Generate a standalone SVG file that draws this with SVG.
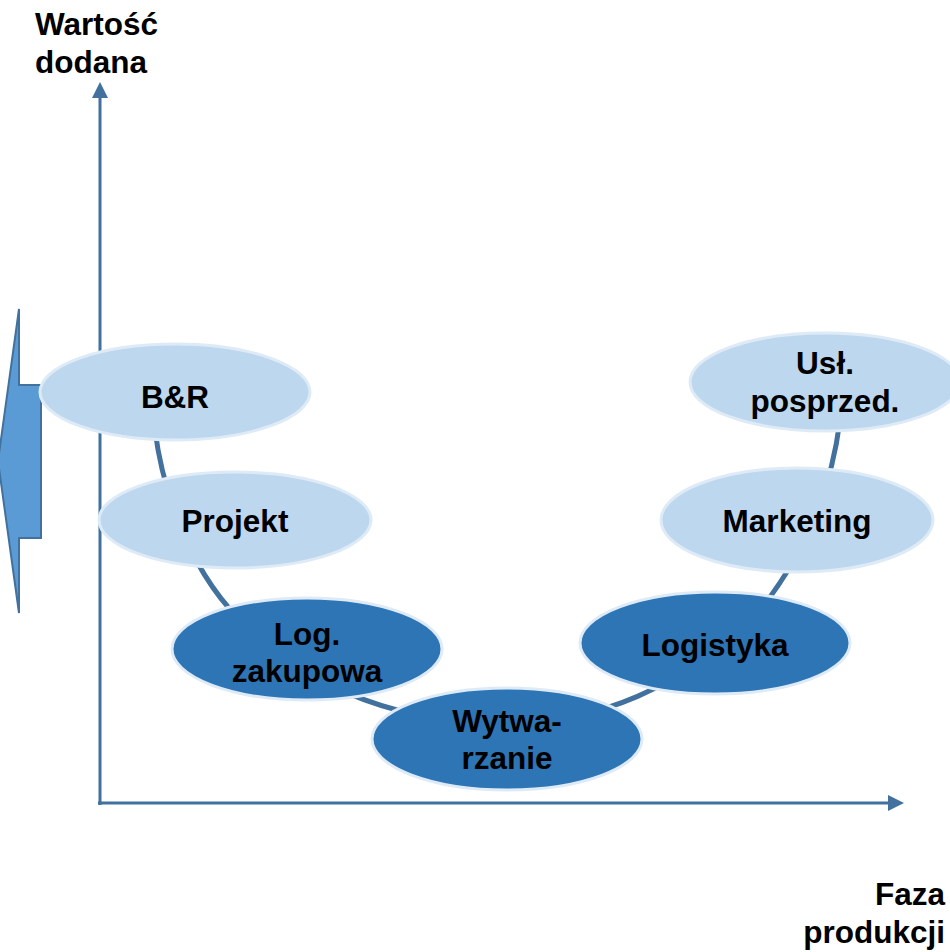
<svg xmlns="http://www.w3.org/2000/svg" width="950" height="952" viewBox="0 0 950 952">
<style>
text{font-family:"Liberation Sans",Arial,sans-serif;font-weight:bold;font-size:31.5px;fill:#000;text-anchor:middle}
.light{fill:#BDD7EE;stroke:#DEEBF7;stroke-width:3}
.dark{fill:#2E75B6;stroke:#DEEBF7;stroke-width:3}
.axis{stroke:#41719C;stroke-width:3;fill:none}
.conn{stroke:#41719C;stroke-width:5;fill:none}
</style>
<g id="side-arrow">
<path d="M19,309 L19,385 L41,385 L41,538 L19,538 L19,613 L-2,461 Z" fill="#5B9BD5" stroke="#41719C" stroke-width="2"/>
</g>
<g id="axes">
<line class="axis" x1="100" y1="805" x2="100" y2="98"/>
<path d="M92,98 L100,82 L108,98 Z" fill="#41719C"/>
<line class="axis" x1="98" y1="803" x2="888" y2="803"/>
<path d="M888,795 L904,803 L888,811 Z" fill="#41719C"/>
</g>
<g id="connectors">
<path class="conn" d="M155,430 C160,470 180,560 240,620 C300,680 380,720 500,725 C600,722 680,690 760,610 C800,560 830,500 840,420"/>
</g>
<g id="node-br"><ellipse class="light" cx="175" cy="392" rx="135" ry="48"/><text x="175" y="408">B&amp;R</text></g>
<g id="node-projekt"><ellipse class="light" cx="235" cy="520" rx="136" ry="48"/><text x="235" y="532">Projekt</text></g>
<g id="node-log"><ellipse class="dark" cx="307" cy="649" rx="135" ry="51"/><text x="307" y="645">Log.</text><text x="307" y="682">zakupowa</text></g>
<g id="node-wytw"><ellipse class="dark" cx="507" cy="739" rx="135" ry="51"/><text x="507" y="732">Wytwa-</text><text x="507" y="769">rzanie</text></g>
<g id="node-logistyka"><ellipse class="dark" cx="715" cy="643" rx="135" ry="51"/><text x="715" y="656">Logistyka</text></g>
<g id="node-marketing"><ellipse class="light" cx="797" cy="520" rx="136" ry="52"/><text x="797" y="532">Marketing</text></g>
<g id="node-usl"><ellipse class="light" cx="825" cy="382" rx="135" ry="49"/><text x="825" y="374">Usł.</text><text x="825" y="412">posprzed.</text></g>
<g id="labels">
<text x="35" y="35" style="text-anchor:start">Wartość</text>
<text x="35" y="73" style="text-anchor:start">dodana</text>
<text x="945" y="905" style="text-anchor:end">Faza</text>
<text x="945" y="943" style="text-anchor:end">produkcji</text>
</g>
</svg>
